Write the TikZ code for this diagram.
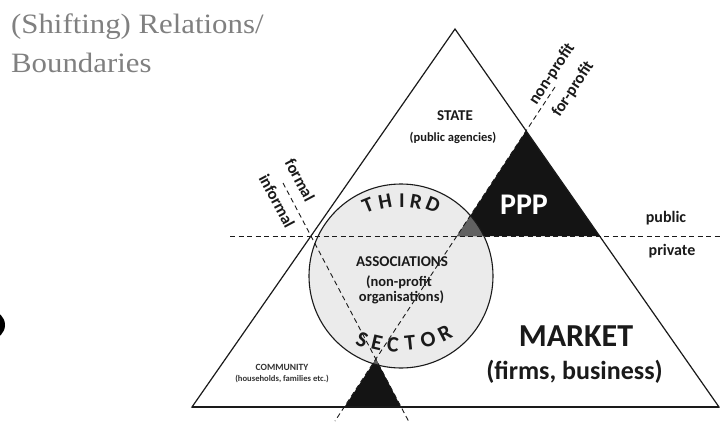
\documentclass[tikz,border=0pt]{standalone}
\usepackage{fontspec}
\setmainfont{Carlito}
\newfontfamily\titlefont[FakeStretch=1.1]{Liberation Serif}
\usetikzlibrary{calc}
\newcommand\setfs[1]{\fontsize{#1}{#1}\selectfont}
\definecolor{circfill}{HTML}{EBEBEB}
\definecolor{titlegray}{HTML}{808080}
\definecolor{ink}{HTML}{1A1A1A}
\tikzset{
  lab/.style={font=\bfseries, text=ink, inner sep=0pt, align=center},
  titletext/.style={font=\titlefont\setfs{28}, text=titlegray, inner sep=0pt, anchor=base west},
  arcletter/.style={font=\bfseries\setfs{21}, text=ink, inner sep=0pt},
  dline/.style={draw=ink, line width=0.9pt, dash pattern=on 5pt off 3.5pt},
  edgeline/.style={draw=ink, line width=1.2pt, line join=miter},
  blk/.style={fill=black!92},
  ovl/.style={fill=black!62},
}
\begin{document}
\begin{tikzpicture}[x=1pt,y=-1pt]
\useasboundingbox (0,0) rectangle (720,423);
\fill[white] (0,0) rectangle (720,423);
% geometry
\coordinate (A) at (455,29);
\coordinate (BL) at (192,407);
\coordinate (BR) at (719,407);
\coordinate (P) at (526,131);
\coordinate (PL) at (457,236);
\coordinate (PR) at (599.5,236);
\coordinate (Q) at (376,359);
\coordinate (QL) at (344.5,407);
\coordinate (QR) at (401,407);
\coordinate (C) at (401,276);
\coordinate (H1) at (230,236);
\coordinate (H2) at (720,236);
\coordinate (N1) at (555,87);
\coordinate (N2) at (335,421);
\coordinate (F1) at (283,183);
\coordinate (F2) at (409,422);
% left blob
\fill[black] (-9,325) circle (14);
% circle and triangles
\fill[circfill] (C) circle (92);
\fill[blk] (P) -- (PL) -- (PR) -- cycle;
\fill[blk] (Q) -- (QL) -- (QR) -- cycle;
\begin{scope}
  \clip (C) circle (92);
  \fill[ovl] (P) -- (PL) -- (PR) -- cycle;
  \fill[ovl] (Q) -- (QL) -- (QR) -- cycle;
\end{scope}
\draw[draw=ink, line width=1.1pt] (C) circle (92);
\draw[edgeline] (A) -- (BL) -- (BR) -- cycle;
\draw[edgeline, line width=1.8pt] (BL) -- (BR);
% dashed boundaries
\draw[dline] (H1) -- (H2);
\draw[dline] (N1) -- (N2);
\draw[dline] (F1) -- (F2);
% title
\node[titletext] (t1) at (11,33) {(Shifting) Relations/};
\node[titletext] (t2) at (11,72) {Boundaries};
% labels
\node[lab, font=\bfseries\setfs{15}] (state) at (455,116) {STATE};
\node[lab, font=\bfseries\setfs{12.5}] (statesub) at (453,138) {(public agencies)};
\node[lab, font=\bfseries\setfs{30}, text=white] (ppp) at (524,205) {PPP};
\node[lab, font=\bfseries\setfs{16}] (public) at (666,218) {public};
\node[lab, font=\bfseries\setfs{16}] (private) at (672,251) {private};
\node[lab, font=\bfseries\setfs{32}] (market) at (576,336) {MARKET};
\node[lab, font=\bfseries\setfs{26}] (marketsub) at (574.5,372) {(firms, business)};
\node[lab, font=\bfseries\setfs{15}] (assoc) at (402,262) {ASSOCIATIONS};
\node[lab, font=\bfseries\setfs{14.5}] (assoc2) at (399,282) {(non-profit};
\node[lab, font=\bfseries\setfs{14.5}] (assoc3) at (401.5,297.5) {organisations)};
\node[lab, font=\bfseries\setfs{9.5}, text=black!80] (comm) at (282,367) {COMMUNITY};
\node[lab, font=\bfseries\setfs{8.6}, text=black!80] (comm2) at (282,379) {(households, families etc.)};
\node[lab, font=\bfseries\setfs{16.5}, rotate=-62] (formal) at (300,180) {formal};
\node[lab, font=\bfseries\setfs{16.5}, rotate=-62] (informal) at (277,201) {informal};
\node[lab, font=\bfseries\setfs{16.5}, rotate=56.7] (nonprofit) at (552,74) {non-profit};
\node[lab, font=\bfseries\setfs{16.5}, rotate=56.7] (forprofit) at (573,89) {for-profit};
% arc texts
\foreach \l/\x/\y/\r in {T/368/205/22,H/385/202/11,I/402/201/0,R/416/202/-10,D/433/205/-22}
  \node[arcletter, rotate=\r] (th-\l) at (\x,\y) {\l};
\foreach \l/\x/\y/\r in {S/362/340/-22,E/377/343/-13,C/393/345/-4,T/410/343/6,O/428/340/16,R/445/333/27}
  \node[arcletter, font=\bfseries\setfs{22}, rotate=\r] (se-\l) at (\x,\y) {\l};
\end{tikzpicture}
\end{document}
